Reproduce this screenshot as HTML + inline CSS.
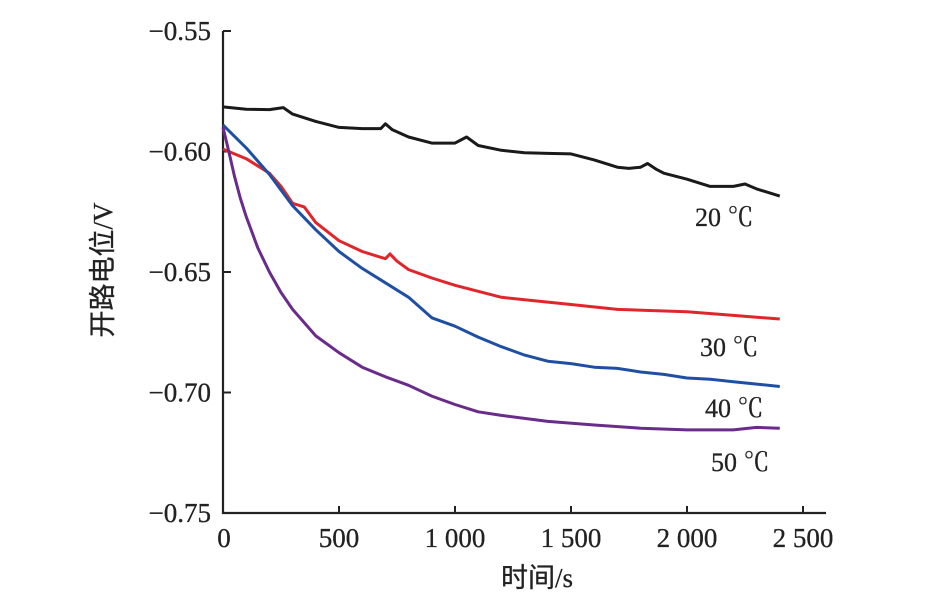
<!DOCTYPE html>
<html><head><meta charset="utf-8"><style>
html,body{margin:0;padding:0;background:#fff;}
svg text{font-family:"Liberation Serif","Noto Serif CJK SC",serif;fill:#222;stroke:#222;stroke-width:0.3;}
</style></head><body>
<svg id="chart" width="935" height="599" viewBox="0 0 935 599" xmlns="http://www.w3.org/2000/svg">
<g id="axes"></g>
<g id="series"></g>
<g id="labels"></g>
<text x="112" y="270" font-size="27" text-anchor="middle" transform="rotate(-90 112 270)" style='font-family:"Liberation Serif","Noto Sans CJK SC",sans-serif'>开路电位/V</text>
<text x="537" y="587" font-size="27" text-anchor="middle" style='font-family:"Liberation Serif","Noto Sans CJK SC",sans-serif'>时间/s</text>
</svg>
<script>
const xTicks=[0,500,1000,1500,2000,2500];
const xTickLabels=["0","500","1 000","1 500","2 000","2 500"];
const yTicks=[-0.55,-0.60,-0.65,-0.70,-0.75];
const yTickLabels=["−0.55","−0.60","−0.65","−0.70","−0.75"];
const t20=[0,100,200,260,300,400,500,600,680,700,730,800,900,1000,1050,1100,1200,1300,1400,1500,1600,1700,1750,1800,1830,1870,1900,2000,2100,2200,2250,2300,2400];
const v20=[-0.5815,-0.5825,-0.5826,-0.5818,-0.5845,-0.5875,-0.590,-0.5905,-0.5905,-0.5885,-0.591,-0.594,-0.5965,-0.5965,-0.594,-0.5975,-0.5995,-0.6005,-0.6008,-0.601,-0.6035,-0.6065,-0.607,-0.6065,-0.605,-0.6075,-0.609,-0.6115,-0.6145,-0.6145,-0.6135,-0.6155,-0.6185];
const t30=[0,100,200,250,300,350,400,500,600,700,720,750,800,900,1000,1100,1200,1300,1500,1700,2000,2200,2400];
const v30=[-0.599,-0.603,-0.609,-0.6145,-0.6215,-0.623,-0.6295,-0.637,-0.6415,-0.6445,-0.6425,-0.6455,-0.649,-0.6525,-0.6555,-0.658,-0.6605,-0.6615,-0.6635,-0.6655,-0.6665,-0.668,-0.6695];
const t40=[0,100,200,300,400,500,600,700,800,900,1000,1100,1200,1300,1400,1500,1600,1700,1800,1900,2000,2100,2200,2300,2400];
const v40=[-0.589,-0.5985,-0.6095,-0.6225,-0.6325,-0.6415,-0.6485,-0.6545,-0.6605,-0.669,-0.6725,-0.677,-0.681,-0.6845,-0.687,-0.688,-0.6895,-0.690,-0.6915,-0.6925,-0.694,-0.6945,-0.6955,-0.6965,-0.6975];
const t50=[0,25,50,75,100,150,200,250,300,400,500,600,700,800,900,1000,1100,1200,1400,1600,1800,2000,2200,2300,2400];
const v50=[-0.590,-0.600,-0.6105,-0.6195,-0.627,-0.640,-0.650,-0.6585,-0.6655,-0.6765,-0.6835,-0.6895,-0.6935,-0.697,-0.7015,-0.705,-0.708,-0.7095,-0.712,-0.7135,-0.7148,-0.7155,-0.7155,-0.7145,-0.7148];
const seriesNames=["20 ℃","30 ℃","40 ℃","50 ℃"];
const NS="http://www.w3.org/2000/svg";
const X=t=>223+t*(803-223)/2500;
const Y=v=>31+(-0.55-v)*(513-31)/0.20;
function mk(tag,attrs,parent){const e=document.createElementNS(NS,tag);for(const k in attrs)e.setAttribute(k,attrs[k]);parent.appendChild(e);return e;}
const axes=document.getElementById('axes');
const yAxis=mk('path',{d:`M${X(0)} ${Y(-0.55)} V${Y(-0.75)} H826`,fill:'none',stroke:'#222','stroke-width':2.2},axes);


xTicks.forEach((t,i)=>{
  const tk=mk('line',{x1:X(t),x2:X(t),y1:Y(-0.75),y2:Y(-0.75)-7,stroke:'#222','stroke-width':2},axes);
  
  
  const tx=mk('text',{x:X(t)+(i==0?1:0),y:Y(-0.75)+34,'font-size':27,'text-anchor':'middle'},axes);
  tx.textContent=xTickLabels[i];
  
  
});
yTicks.forEach((v,i)=>{
  if(i<yTicks.length-1){
  const tk=mk('line',{x1:X(0),x2:X(0)+8,y1:Y(v),y2:Y(v),stroke:'#222','stroke-width':2},axes);
  
  }
  const tx=mk('text',{x:X(0)-12,y:Y(v)+9,'font-size':27,'text-anchor':'end'},axes);
  tx.textContent=yTickLabels[i];
  
  
});
const ser=document.getElementById('series');
const sets=[[t20,v20,'#1a1a1a','line-20c'],[t30,v30,'#e0262b','line-30c'],[t40,v40,'#1f4fa3','line-40c'],[t50,v50,'#6a2c8a','line-50c']];
sets.forEach(s=>{
  const d=s[0].map((t,i)=>(i?'L':'M')+X(t).toFixed(1)+' '+Y(s[1][i]).toFixed(1)).join(' ');
  const p=mk('path',{d:d,fill:'none',stroke:s[2],'stroke-width':3,'stroke-linejoin':'round'},ser);
  
  
});
const lab=document.getElementById('labels');
const labPos=[[695,226],[700,356],[705,417],[711,471]];
seriesNames.forEach((n,i)=>{
  const tx=mk('text',{x:labPos[i][0],y:labPos[i][1],'font-size':26},lab);
  tx.textContent=n;
  
  
});
</script>
</body></html>
